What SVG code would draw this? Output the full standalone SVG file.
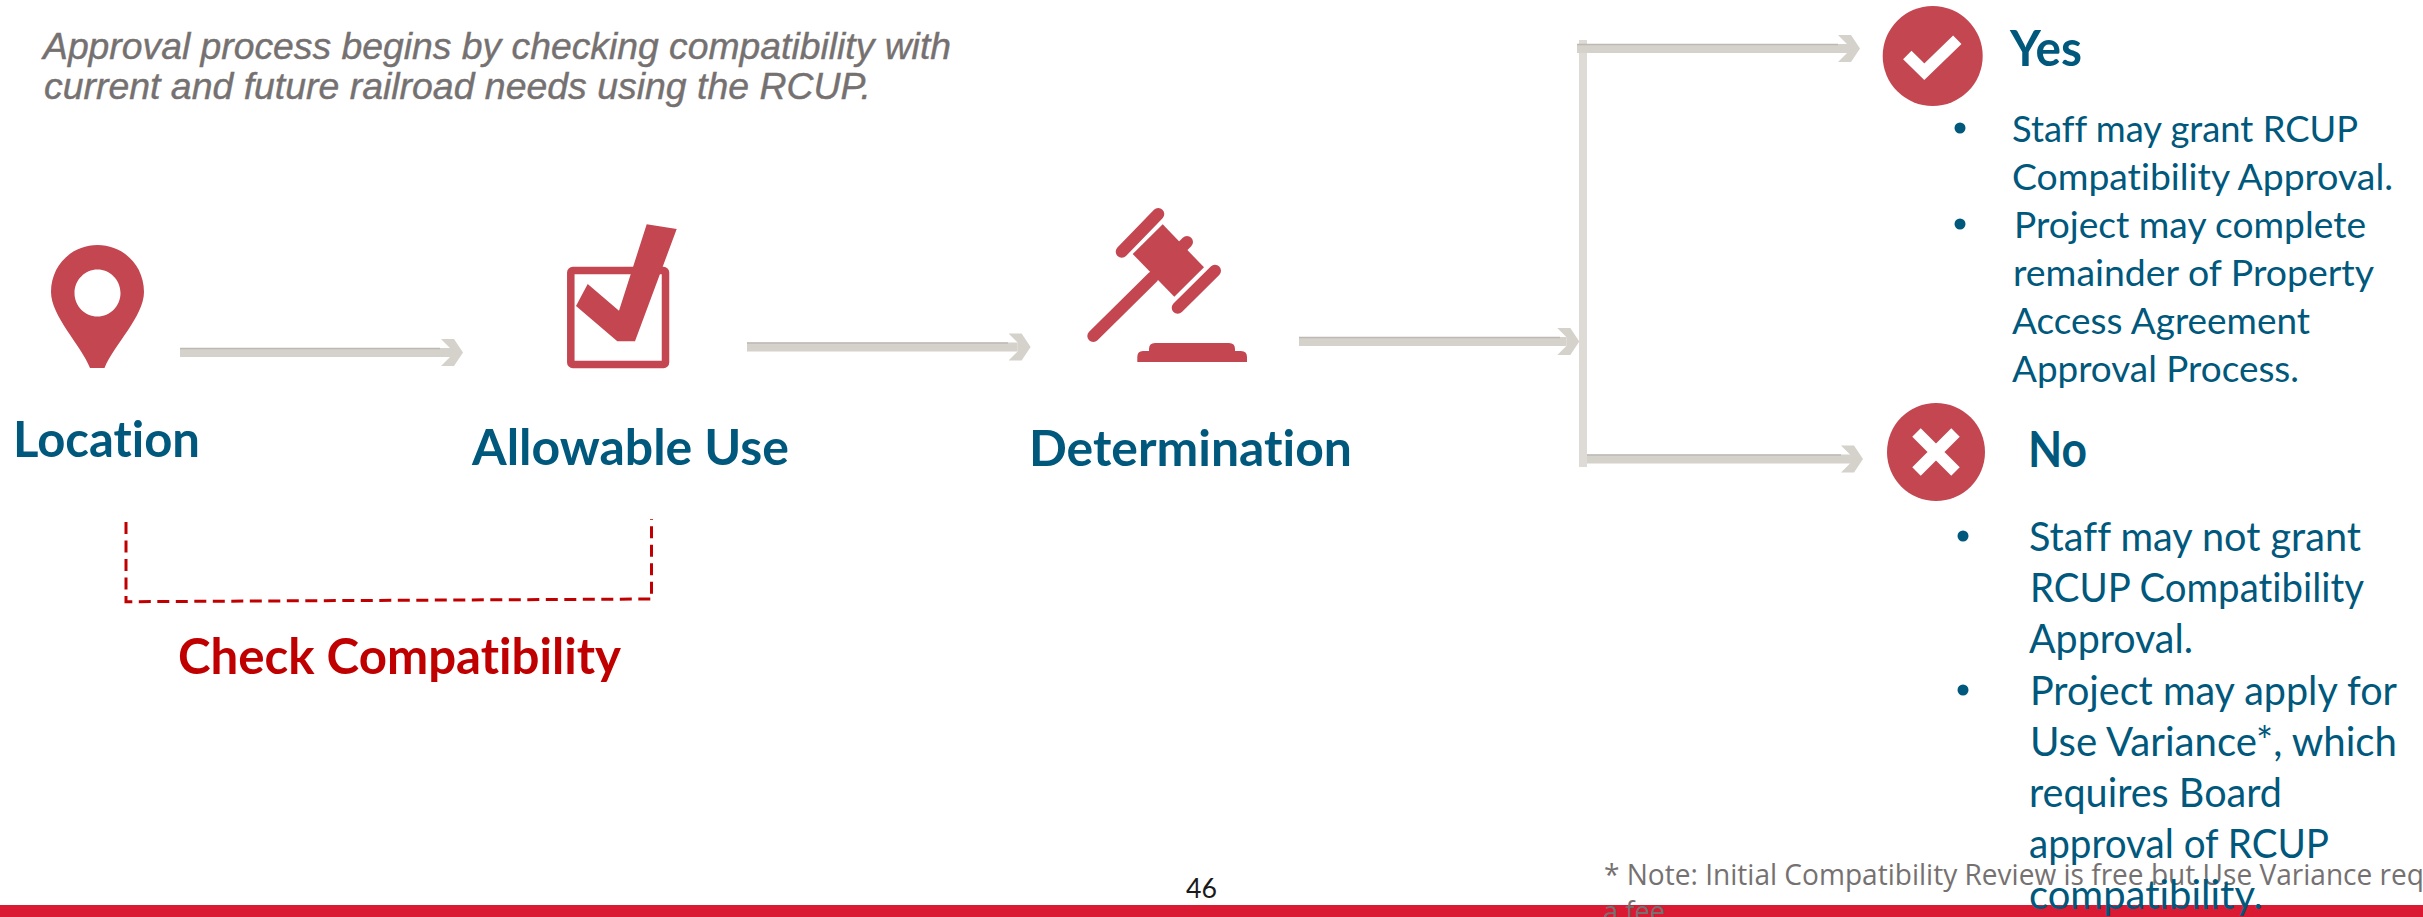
<svg xmlns="http://www.w3.org/2000/svg" width="2423" height="917" viewBox="0 0 2423 917">
<style>
text{font-family:"Lato","Liberation Sans",sans-serif;font-variant-ligatures:none}
.icon{fill:#c44650}
.bar{fill:none;stroke:#c44650;stroke-linecap:round;stroke-width:12}
.head{font-weight:700;font-size:50px;fill:#00587c}
.body{fill:#00587c}
.y{font-size:37px}
.n{font-size:40px}
.dot{fill:#00587c}
.note{font-family:"Open Sans","Liberation Sans",sans-serif;font-size:29px;fill:#767171}
.intro{font-family:"Liberation Sans",Arial,sans-serif;font-style:italic;font-size:36px;fill:#767171;stroke:#767171;stroke-width:.4}
.shaft{stroke:#d5d1cb;stroke-width:9;fill:none}
.edge{stroke:#bdb9b3;stroke-width:1.5;fill:none}
.tick{fill:none;stroke:#fff;stroke-width:12}
</style>
<defs>
<marker id="chev" markerUnits="userSpaceOnUse" markerWidth="24" markerHeight="28" viewBox="-22 -14 24 28" refX="-13" refY="0" orient="auto">
<polygon points="-22,-13.5 -9,-13.5 0,0 -9,13.5 -22,13.5 -13,4.5 -13,-4.5" fill="#d5d1cb"/>
</marker>
</defs>
<rect id="footer-bar" x="0" y="905" width="2423" height="12" fill="#da1a32"/>
<text class="intro" x="43" y="59" textLength="908" lengthAdjust="spacingAndGlyphs">Approval process begins by checking compatibility with</text>
<text class="intro" x="44" y="99" textLength="827" lengthAdjust="spacingAndGlyphs">current and future railroad needs using the RCUP.</text>
<g id="connectors">
<rect x="1579" y="40" width="8" height="427" fill="#dedbd6"/>
<g><line class="shaft" x1="180" y1="352.5" x2="450" y2="352.5" marker-end="url(#chev)"/><line class="edge" x1="180" y1="348.5" x2="440" y2="348.5"/></g>
<g><line class="shaft" x1="747" y1="347" x2="1017.6" y2="347" marker-end="url(#chev)"/><line class="edge" x1="747" y1="343" x2="1008" y2="343"/></g>
<g><line class="shaft" x1="1299" y1="341.5" x2="1566.3" y2="341.5" marker-end="url(#chev)"/><line class="edge" x1="1299" y1="337.5" x2="1560" y2="337.5"/></g>
<g><line class="shaft" x1="1577" y1="48.5" x2="1847" y2="48.5" marker-end="url(#chev)"/><line class="edge" x1="1577" y1="44.5" x2="1838" y2="44.5"/></g>
<g><line class="shaft" x1="1587" y1="459" x2="1850" y2="459" marker-end="url(#chev)"/><line class="edge" x1="1587" y1="455" x2="1841" y2="455"/></g>
</g>
<g id="location">
<path class="icon" fill-rule="evenodd" d="M97.5 245C123 245 144 265 144 292C144 316 114 345 104.5 368L90 368C81 345 51 316 51 292C51 265 72 245 97.5 245ZM97.5 269.5C85 269.5 74.5 280 74.5 293C74.5 306 85 316.500 97.500 316.500C110 316.500 120.500 306 120.500 293C120.500 280 110 269.500 97.500 269.500Z"/>
<text class="head" x="13" y="457" textLength="187" lengthAdjust="spacingAndGlyphs">Location</text>
</g>
<g id="allowable-use">
<rect x="570.800" y="270.500" width="94.700" height="94" rx="2" fill="none" stroke="#c44650" stroke-width="7.500"/>
<polygon class="icon" points="646.700,224.300 676.700,229 635,341.300 617.300,341.300 576,306 587.700,284 619,310.700"/>
<text class="head" x="472" y="465" textLength="317" lengthAdjust="spacingAndGlyphs">Allowable Use</text>
</g>
<g id="determination">
<line class="bar" x1="1158.300" y1="214" x2="1121.700" y2="251.700"/>
<line class="bar" x1="1215" y1="270.700" x2="1177.700" y2="307.700"/>
<polygon class="icon" points="1162.700,224.300 1204,267.300 1174.300,296.700 1132.700,254"/>
<line class="bar" x1="1182" y1="247" x2="1187" y2="242"/>
<line class="bar" x1="1093.300" y1="336" x2="1153" y2="277"/>
<path class="icon" d="M1149 351V349Q1149 343 1155 343H1229Q1235 343 1235 349V351H1241Q1247 351 1247 357V362H1137.300V357Q1137.300 351 1143 351Z"/>
<text class="head" x="1029" y="466" textLength="323" lengthAdjust="spacingAndGlyphs">Determination</text>
</g>
<g id="check-compatibility">
<path d="M126 522V601.700L651.500 599V519" fill="none" stroke="#c00000" stroke-width="3" stroke-dasharray="12 6.500"/>
<text class="head" x="178" y="674" textLength="443" lengthAdjust="spacingAndGlyphs" style="fill:#c00000">Check Compatibility</text>
</g>
<g id="yes">
<ellipse class="icon" cx="1932.700" cy="56" rx="50" ry="50"/>
<polyline class="tick" points="1907.300,55 1924.300,71.700 1957.300,39.700"/>
<text class="head" x="2010" y="66" textLength="72" lengthAdjust="spacingAndGlyphs">Yes</text>
<circle class="dot" cx="1960" cy="128" r="5.500"/>
<circle class="dot" cx="1960" cy="224" r="5.500"/>
<text class="body y" x="2012" y="142" textLength="346" lengthAdjust="spacingAndGlyphs">Staff may grant RCUP</text>
<text class="body y" x="2012" y="190" textLength="381" lengthAdjust="spacingAndGlyphs">Compatibility Approval.</text>
<text class="body y" x="2014" y="238" textLength="352" lengthAdjust="spacingAndGlyphs">Project may complete</text>
<text class="body y" x="2013" y="286" textLength="361" lengthAdjust="spacingAndGlyphs">remainder of Property</text>
<text class="body y" x="2012" y="334" textLength="298" lengthAdjust="spacingAndGlyphs">Access Agreement</text>
<text class="body y" x="2012" y="382" textLength="287" lengthAdjust="spacingAndGlyphs">Approval Process.</text>
</g>
<g id="no">
<ellipse class="icon" cx="1936" cy="452" rx="49" ry="49"/>
<path class="tick" d="M1916.500 432.500L1955.500 471.500M1955.500 432.500L1916.500 471.500"/>
<text class="head" x="2028" y="467" textLength="59" lengthAdjust="spacingAndGlyphs">No</text>
</g>
<g id="footnote">
<text class="note" x="1604" y="885" textLength="820" lengthAdjust="spacingAndGlyphs">* Note: Initial Compatibility Review is free but Use Variance req</text>
<text class="note" x="1603" y="922" textLength="62" lengthAdjust="spacingAndGlyphs">a fee</text>
</g>
<g id="no-details">
<circle class="dot" cx="1963" cy="536" r="5.500"/>
<circle class="dot" cx="1963" cy="690" r="5.500"/>
<text class="body n" x="2029" y="551" textLength="332" lengthAdjust="spacingAndGlyphs">Staff may not grant</text>
<text class="body n" x="2030" y="602" textLength="334" lengthAdjust="spacingAndGlyphs">RCUP Compatibility</text>
<text class="body n" x="2029" y="653" textLength="164" lengthAdjust="spacingAndGlyphs">Approval.</text>
<text class="body n" x="2030" y="705" textLength="367" lengthAdjust="spacingAndGlyphs">Project may apply for</text>
<text class="body n" x="2030" y="756" textLength="367" lengthAdjust="spacingAndGlyphs">Use Variance*, which</text>
<text class="body n" x="2029" y="807" textLength="253" lengthAdjust="spacingAndGlyphs">requires Board</text>
<text class="body n" x="2029" y="858" textLength="300" lengthAdjust="spacingAndGlyphs">approval of RCUP</text>
<text class="body n" x="2029" y="909" textLength="234" lengthAdjust="spacingAndGlyphs">compatibility.</text>
</g>
<text id="page-number" x="1186" y="898" font-size="27" fill="#1a1a1a" textLength="31" lengthAdjust="spacingAndGlyphs">46</text>
</svg>
